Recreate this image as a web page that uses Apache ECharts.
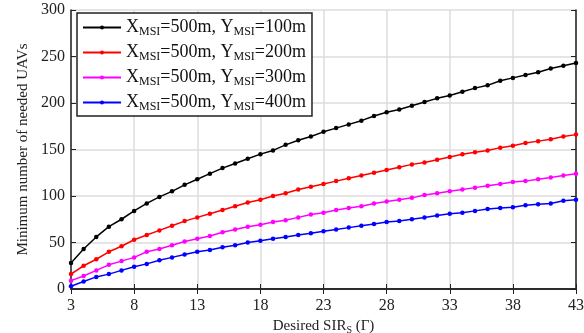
<!DOCTYPE html>
<html>
<head>
<meta charset="utf-8">
<script src="https://cdn.jsdelivr.net/npm/echarts@6/dist/echarts.min.js"></script>
<style>
  html, body { margin: 0; padding: 0; background: #fff; }
  #main { width: 584px; height: 333px; }
</style>
</head>
<body>
<div id="main"></div>
<script>
var sir = [3, 4, 5, 6, 7, 8, 9, 10, 11, 12, 13, 14, 15, 16, 17, 18, 19, 20, 21, 22, 23,
  24, 25, 26, 27, 28, 29, 30, 31, 32, 33, 34, 35, 36, 37, 38, 39, 40, 41, 42, 43];
var y100 = [28, 43, 56, 67, 75, 84, 92, 99, 105, 112, 118, 124, 130, 135, 140, 145, 149, 155, 160, 164, 169,
  173, 177, 181, 186, 190, 193, 197, 201, 205, 208, 212, 216, 219, 224, 227, 230, 233, 237, 240, 243];
var y200 = [16, 25, 32, 40, 46, 53, 58, 63, 68, 73, 77, 81, 85, 89, 93, 96, 100, 103, 107, 110, 113,
  116, 119, 122, 125, 128, 131, 134, 136, 139, 142, 145, 147, 149, 152, 154, 157, 159, 161, 164, 166];
var y300 = [9, 14, 20, 26, 30, 34, 40, 43, 47, 51, 54, 57, 61, 64, 67, 69, 72, 74, 77, 80, 82,
  85, 87, 89, 92, 94, 96, 98, 101, 103, 105, 107, 109, 111, 113, 115, 116, 118, 120, 122, 124];
var y400 = [3, 8, 13, 16, 20, 24, 27, 31, 34, 37, 40, 42, 45, 47, 50, 52, 54, 56, 58, 60, 62,
  64, 66, 68, 70, 72, 73, 75, 77, 79, 81, 82, 84, 86, 87, 88, 90, 91, 92, 95, 96];
var yLabels = ['100', '200', '300', '400'];
var colors = ['#000000', '#ff0000', '#ff00ff', '#0000ff'];

var font = 'Liberation Serif';
var chart = echarts.init(document.getElementById('main'));

function pairs(ys) {
  return ys.map(function (v, i) { return [sir[i], v]; });
}
var allY = [y100, y200, y300, y400];

var series = allY.map(function (ys, i) {
  return {
    name: 'Y' + yLabels[i],
    type: 'line',
    data: pairs(ys),
    symbol: 'circle',
    symbolSize: 4.5,
    lineStyle: { width: 1.5, color: colors[i] },
    itemStyle: { color: colors[i] },
    emphasis: { disabled: true },
    z: 10 - i
  };
});

var axisCommon = {
  axisLine: { show: true, lineStyle: { color: '#222', width: 1.5 } },
  axisTick: { show: true, inside: true, length: 5, lineStyle: { color: '#222', width: 1 } }
};

chart.setOption({
  animation: false,
  textStyle: { fontFamily: font },
  grid: { left: 71, right: 8, top: 10, bottom: 44, outerBoundsMode: 'none' },
  legend: {
    orient: 'vertical',
    left: 77,
    top: 13,
    backgroundColor: '#fff',
    borderColor: '#222',
    borderWidth: 1.5,
    padding: [4, 6, 3, 5],
    itemWidth: 38,
    itemHeight: 5,
    itemGap: 4,
    formatter: function (name) {
      return '{a|X}{s|MSI}{a|=500m, Y}{s|MSI}{a|=' + name.slice(1) + 'm}';
    },
    textStyle: {
      fontFamily: font,
      rich: {
        a: { fontFamily: font, fontSize: 18, color: '#111', lineHeight: 20 },
        s: { fontFamily: font, fontSize: 12, color: '#111', lineHeight: 20, padding: [9, 0, 0, 0] }
      }
    },
    data: series.map(function (s) { return s.name; })
  },
  xAxis: [
    Object.assign({
      type: 'value', min: 3, max: 43, interval: 5,
      name: '{a|Desired SIR}{s|S}{a| (Γ)}',
      nameLocation: 'middle',
      nameGap: 27,
      nameTextStyle: {
        rich: {
          a: { fontFamily: font, fontSize: 15, color: '#222' },
          s: { fontFamily: font, fontSize: 10, color: '#222', padding: [7, 0, 0, 0] }
        }
      },
      axisLabel: { fontFamily: font, fontSize: 16, color: '#222', margin: 9 },
      splitLine: { show: true, lineStyle: { color: '#dcdcdc', width: 1.5 } }
    }, axisCommon),
    Object.assign({
      type: 'value', min: 3, max: 43, interval: 5, position: 'top',
      axisLabel: { show: false }, splitLine: { show: false }
    }, axisCommon)
  ],
  yAxis: [
    Object.assign({
      type: 'value', min: 0, max: 300, interval: 50,
      name: 'Minimum number of needed UAVs',
      nameLocation: 'middle',
      nameGap: 40,
      nameTextStyle: { fontFamily: font, fontSize: 15, color: '#222' },
      axisLabel: { fontFamily: font, fontSize: 16, color: '#222', margin: 6 },
      splitLine: { show: true, lineStyle: { color: '#dcdcdc', width: 1.5 } }
    }, axisCommon),
    Object.assign({
      type: 'value', min: 0, max: 300, interval: 50, position: 'right',
      axisLabel: { show: false }, splitLine: { show: false }
    }, axisCommon)
  ],
  series: series
});
</script>
</body>
</html>
